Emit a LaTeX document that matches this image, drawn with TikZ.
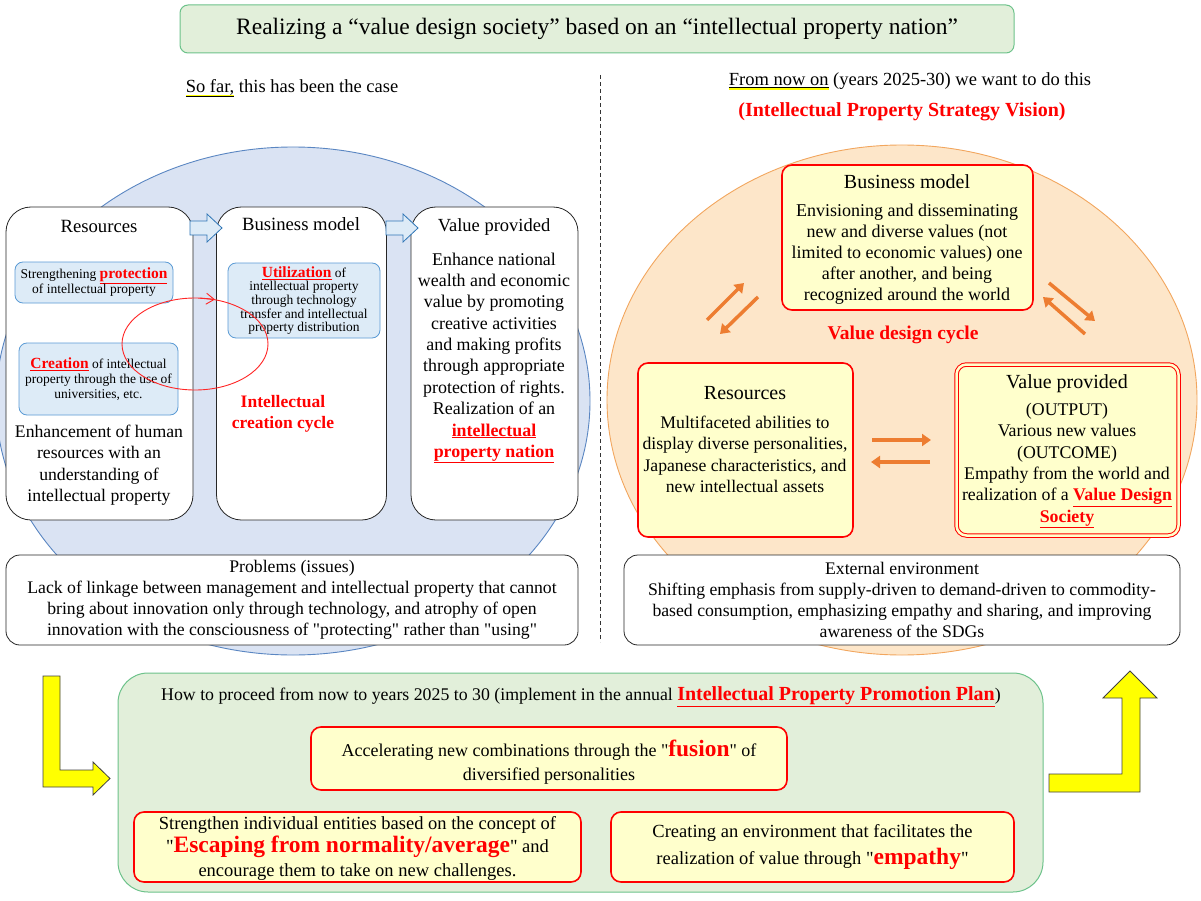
\documentclass[tikz,border=0pt]{standalone}
\usepackage{fontspec}
\setmainfont{Liberation Serif}[Ligatures=TeXOff, BoldFont={Liberation Serif Bold}, ItalicFont={Liberation Serif Italic}, BoldItalicFont={Liberation Serif Bold Italic}]
\usetikzlibrary{arrows.meta,shapes.geometric}
\definecolor{bluefill}{HTML}{DAE3F3}
\definecolor{bluebd}{HTML}{5A86C2}
\definecolor{orfill}{HTML}{FDE6C9}
\definecolor{orbd}{HTML}{F2A65E}
\definecolor{yfill}{HTML}{FFFFCC}
\definecolor{gfill}{HTML}{E2EFDA}
\definecolor{gbd}{HTML}{6CC28A}
\definecolor{sbfill}{HTML}{DDEBF7}
\definecolor{sbbd}{HTML}{5B9BD5}
\definecolor{arrblue}{HTML}{2E75B6}
\definecolor{orarrow}{HTML}{ED7D31}
\definecolor{yarrow}{HTML}{FFFF00}
\definecolor{redtxt}{HTML}{FF0000}
\newcommand\myfs[2]{\fontsize{#1}{#2}\selectfont}
\newcommand\rul[1]{\textcolor{redtxt}{\underline{\textbf{#1}}}}
\newcommand\rbf[1]{\textcolor{redtxt}{\textbf{#1}}}
\newcommand\yul[1]{\setbox0=\hbox{#1}\rlap{\textcolor{yarrow}{\rule[-4.5pt]{\wd0}{1.8pt}}}\underline{#1}}
\begin{document}
\begin{tikzpicture}[x=1pt,y=-1pt,
  txt/.style={inner sep=0pt, align=center, font={\myfs{18}{21.5}}},
  wbox/.style={draw=black!85, line width=0.8pt, fill=white, rounded corners=25pt},
  pbox/.style={draw=black!85, line width=0.8pt, fill=white, rounded corners=14pt},
  sbbox/.style={draw=sbbd, line width=0.8pt, fill=sbfill, rounded corners=8pt, align=center, inner sep=0pt},
  ybox/.style={draw=redtxt, line width=1.6pt, fill=yfill, rounded corners=10pt},
  gbox/.style={draw=gbd, line width=1pt, fill=gfill},
  blockarrow/.style={draw=arrblue, line width=0.8pt, fill=sbfill},
  yarr/.style={draw=black!75, line width=0.8pt, fill=yarrow},
  oarr/.style={draw=orarrow, line width=3.5pt, -{Triangle[length=9pt,width=12pt]}},
  redcyc/.style={draw=redtxt!85, line width=0.9pt}
]
\useasboundingbox (0,0) rectangle (1201,901);

% ---------- title ----------
\node[gbox, rounded corners=8pt, minimum width=834pt, minimum height=48pt, inner sep=0pt,
      font={\myfs{23.5}{26}}] (title) at (597,29)
  {Realizing a “value design society” based on an “intellectual property nation”};

% ---------- divider ----------
\coordinate (dv1) at (600,75);
\coordinate (dv2) at (600,642);
\draw[black!80, line width=0.8pt, dash pattern=on 4pt off 3pt] (dv1) -- (dv2);

% ---------- section headings ----------
\node[txt, font={\myfs{18.5}{20}}] (sofar) at (292,88) {\yul{So far,} this has been the case};
\node[txt, font={\myfs{18.5}{20}}] (fromnow) at (910,81) {\yul{From now on} (years 2025-30) we want to do this};
\node[txt, font={\myfs{20}{22}}] (vision) at (902,112) {\rbf{(Intellectual Property Strategy Vision)}};

% ---------- left: blue circle ----------
\node[draw=bluebd, line width=0.9pt, fill=bluefill, ellipse, minimum width=594pt, minimum height=508pt, inner sep=0pt] (bluecirc) at (293,401) {};

\node[wbox, minimum width=187pt, minimum height=313pt] (lres) at (99.5,363.5) {};
\node[wbox, minimum width=170pt, minimum height=313pt] (lbm) at (301.5,363.5) {};
\node[wbox, minimum width=167pt, minimum height=313pt] (lvp) at (494.5,363.5) {};

% block arrows between the boxes
\path[blockarrow] (190,221) -- (207,221) -- (207,214) -- (222,228) -- (207,242) -- (207,235) -- (190,235) -- cycle;
\path[blockarrow] (386,221) -- (403,221) -- (403,214) -- (418,228) -- (403,242) -- (403,235) -- (386,235) -- cycle;

\node[txt, font={\myfs{18.7}{21}}] (lrestitle) at (99,226) {Resources};
\node[sbbox, minimum width=158pt, minimum height=41pt, font={\myfs{13.5}{15}}] (lprot) at (94,282.5)
  {Strengthening \rul{\myfs{15.5}{15}protection}\\of intellectual property};
\node[sbbox, minimum width=159pt, minimum height=72pt, font={\myfs{13.5}{15}}] (lcre) at (98.5,379)
  {\rul{\myfs{15.5}{15}Creation} of intellectual\\property through the use of\\universities, etc.};
\node[txt, font={\myfs{17.7}{21.5}}] (lenh) at (99,465)
  {Enhancement of human\\resources with an\\understanding of\\intellectual property};

\node[txt, font={\myfs{18.7}{21}}] (lbmtitle) at (301,224) {Business model};
\node[sbbox, minimum width=152pt, minimum height=75pt, font={\myfs{13.5}{13.6}}] (lutil) at (304,300.5)
  {\rul{\myfs{15.5}{15}Utilization} of\\intellectual property\\through technology\\transfer and intellectual\\property distribution};

% intellectual creation cycle
\node[redcyc, ellipse, minimum width=146pt, minimum height=92pt, inner sep=0pt] (cyc) at (195,344) {};
\coordinate (cycA) at (200,298.2);
\coordinate (cycB) at (215,299.5);
\draw[redcyc, -{Straight Barb[length=8pt,width=11pt]}] (cycA) -- (cycB);
\node[txt, font={\myfs{17.5}{21}}] (cyctxt) at (283,414) {\rbf{Intellectual}\\\rbf{creation cycle}};

\node[txt, font={\myfs{18.5}{21}}] (lvptitle) at (494,227) {Value provided};
\node[txt, font={\myfs{17.9}{21.35}}] (lvptxt) at (494,358)
  {Enhance national\\wealth and economic\\value by promoting\\creative activities\\and making profits\\through appropriate\\protection of rights.\\Realization of an\\\rul{intellectual}\\\rul{property nation}};

\node[pbox, minimum width=572pt, minimum height=90pt] (prob) at (292,600) {};
\node[txt, font={\myfs{17.7}{21}}] (probtxt) at (292,600)
  {Problems (issues)\\Lack of linkage between management and intellectual property that cannot\\bring about innovation only through technology, and atrophy of open\\innovation with the consciousness of "protecting" rather than "using"};

% ---------- right: orange circle ----------
\node[draw=orbd, line width=0.9pt, fill=orfill, ellipse, minimum width=590pt, minimum height=510pt, inner sep=0pt] (orcirc) at (902,400) {};

\node[ybox, minimum width=251pt, minimum height=145pt] (rbm) at (907.5,237.5) {};
\node[txt, font={\myfs{20}{22}}] (rbmtitle) at (907,182) {Business model};
\node[txt, font={\myfs{18}{21}}] (rbmtxt) at (907,254)
  {Envisioning and disseminating\\new and diverse values (not\\limited to economic values) one\\after another, and being\\recognized around the world};

\node[txt, font={\myfs{19.5}{21}}] (vdc) at (903,335) {\rbf{Value design cycle}};

\node[ybox, minimum width=215pt, minimum height=174pt] (rres) at (745.5,450) {};
\node[txt, font={\myfs{20}{22}}] (rrestitle) at (745,393) {Resources};
\node[txt, font={\myfs{17.7}{21.5}}] (rrestxt) at (745,454.5)
  {Multifaceted abilities to\\display diverse personalities,\\Japanese characteristics, and\\new intellectual assets};

\node[draw=redtxt, line width=1pt, double=yfill, double distance=2.5pt, fill=yfill, rounded corners=10pt,
      minimum width=222pt, minimum height=171pt] (rvp) at (1067.5,450) {};
\node[txt, font={\myfs{20}{22}}] (rvptitle) at (1067,384) {Value provided};
\node[txt, font={\myfs{17.8}{21.4}}] (rvptxt) at (1067,465.5)
  {(OUTPUT)\\Various new values\\(OUTCOME)\\Empathy from the world and\\realization of a \rul{Value Design}\\\rul{Society}};

% orange cycle arrows
\coordinate (oa1) at (707,320); \coordinate (oa2) at (744,283);
\coordinate (ob1) at (758,297); \coordinate (ob2) at (720,334);
\coordinate (oc1) at (1049,283); \coordinate (oc2) at (1095,321);
\coordinate (od1) at (1085,334); \coordinate (od2) at (1043,297);
\coordinate (oe1) at (872,440); \coordinate (oe2) at (931,440);
\coordinate (of1) at (930,462); \coordinate (of2) at (871,462);
\draw[oarr] (oa1) -- (oa2);
\draw[oarr] (ob1) -- (ob2);
\draw[oarr] (oc1) -- (oc2);
\draw[oarr] (od1) -- (od2);
\draw[oarr] (oe1) -- (oe2);
\draw[oarr] (of1) -- (of2);

\node[pbox, minimum width=556pt, minimum height=90pt] (ext) at (902,600) {};
\node[txt, font={\myfs{17.7}{21}}] (exttxt) at (902,600)
  {External environment\\Shifting emphasis from supply-driven to demand-driven to commodity-\\based consumption, emphasizing empathy and sharing, and improving\\awareness of the SDGs};

% ---------- bottom ----------
\node[gbox, rounded corners=30pt, minimum width=925pt, minimum height=219pt] (plan) at (580.5,782.5) {};
\node[txt, font={\myfs{17.8}{20}}] (plantitle) at (581,697)
  {How to proceed from now to years 2025 to 30 (implement in the annual \rul{\myfs{20}{20}Intellectual Property Promotion Plan})};

\node[ybox, minimum width=476pt, minimum height=63pt] (fus) at (549,758.5) {};
\node[txt, font={\myfs{18}{24}}] (fustxt) at (549,762)
  {Accelerating new combinations through the "\rbf{\myfs{23.4}{24}fusion}" of\\diversified personalities};

\node[ybox, minimum width=447pt, minimum height=70pt] (esc) at (357.5,847) {};
\node[txt, font={\myfs{18.5}{23.5}}] (esctxt) at (357.5,848)
  {Strengthen individual entities based on the concept of\\"\rbf{\myfs{23.5}{24}Escaping from normality/average}" and\\encourage them to take on new challenges.};

\node[ybox, minimum width=403pt, minimum height=70pt] (emp) at (812.5,847) {};
\node[txt, font={\myfs{18.5}{27}}] (emptxt) at (812.5,847)
  {Creating an environment that facilitates the\\realization of value through "\rbf{\myfs{23.5}{24}empathy}"};

% yellow arrows
\path[yarr] (43,676) -- (60,676) -- (60,770) -- (93,770) -- (93,762) -- (110,778.5) -- (93,795) -- (93,787) -- (43,787) -- cycle;
\path[yarr] (1049,774) -- (1122,774) -- (1122,698) -- (1103,698) -- (1130,671) -- (1157,698) -- (1140,698) -- (1140,792) -- (1049,792) -- cycle;
\end{tikzpicture}
\end{document}
